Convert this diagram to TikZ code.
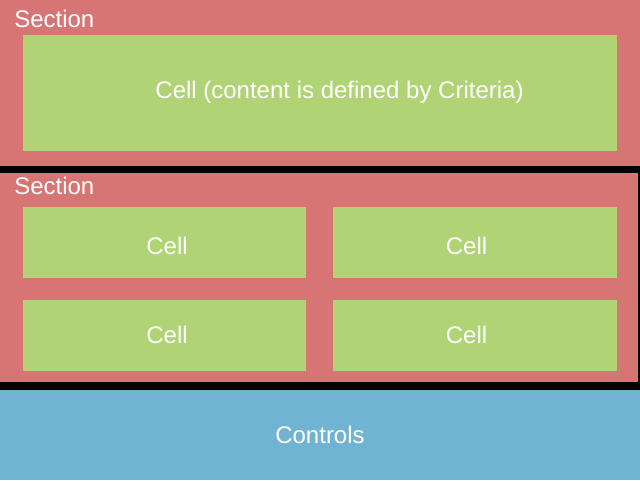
\documentclass[tikz,border=0pt]{standalone}
\usepackage{fontspec}
\setmainfont{Liberation Sans}
\definecolor{sectionred}{RGB}{214,117,116}
\definecolor{cellgreen}{RGB}{176,212,117}
\definecolor{ctrlblue}{RGB}{112,179,210}
\begin{document}
\begin{tikzpicture}[x=0.75pt,y=-0.75pt,
		label/.style={text=white,font=\fontsize{18}{20}\selectfont,inner sep=0pt},
		section/.style={fill=sectionred},
		cell/.style={fill=cellgreen}]
	\useasboundingbox (0,0) rectangle (640,480);
	\fill[black] (0,0) rectangle (640,480);
	% first section
	\fill[section] (0,0) rectangle (640,166);
	\node[label,anchor=base west] (sec1) at (14,27) {Section};
	\fill[cell] (23,35) rectangle (617,151);
	\node[label,anchor=base] (bigcell) at (339.5,98) {Cell (content is defined by Criteria)};
	% second section
	\fill[section] (0,173) rectangle (638,382);
	\node[label,anchor=base west] (sec2) at (14,194) {Section};
	\fill[cell] (23,207) rectangle (306,278);
	\fill[cell] (333,207) rectangle (617,278);
	\fill[cell] (23,300) rectangle (306,371);
	\fill[cell] (333,300) rectangle (617,371);
	\node[label,anchor=base] (cella) at (167,254) {Cell};
	\node[label,anchor=base] (cellb) at (466.5,254) {Cell};
	\node[label,anchor=base] (cellc) at (167,343) {Cell};
	\node[label,anchor=base] (celld) at (466.5,343) {Cell};
	% controls
	\fill[ctrlblue] (0,390) rectangle (640,480);
	\node[label,anchor=base] (ctrl) at (320,443) {Controls};
\end{tikzpicture}
\end{document}
